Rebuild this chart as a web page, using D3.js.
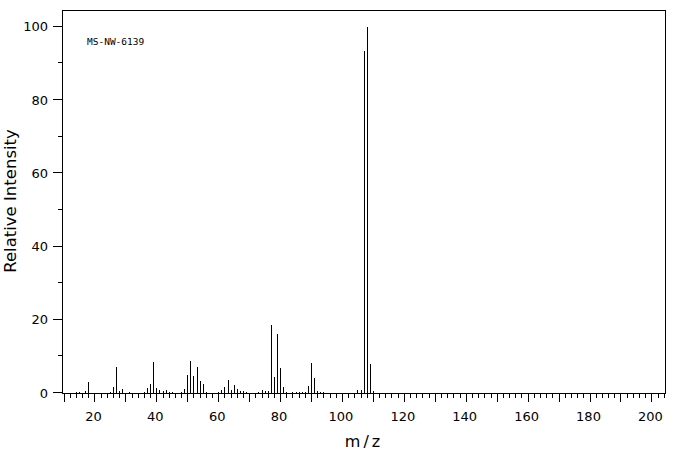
<!DOCTYPE html>
<html>
<head>
<meta charset="utf-8">
<script src="https://cdn.jsdelivr.net/npm/d3@7"></script>
<style>
  html, body { margin: 0; padding: 0; background: #fff; }
  svg { display: block; }
  text { fill: #000; }
</style>
</head>
<body>
<svg id="chart" width="676" height="455"></svg>
<script>
// m/z values and relative intensities
const mzValues = [14,15,17,18,25,26,27,28,29,31,36,37,38,39,40,41,42,43,44,45,48,49,50,51,52,53,54,55,56,60,61,62,63,64,65,66,67,68,69,73,74,75,76,77,78,79,80,81,82,84,85,86,87,88,89,90,91,92,93,94,105,106,107,108,109,110];
const intensities = [0.3,0.3,0.5,3.0,0.3,1.6,7.2,0.6,1.1,0.3,0.3,1.4,2.5,8.5,1.4,0.7,0.5,0.7,0.4,0.4,0.3,1.1,5.0,8.7,4.6,7.2,3.3,2.5,0.3,0.3,0.8,1.6,3.5,0.8,2.3,1.2,0.5,0.5,0.3,0.3,0.8,0.5,0.5,18.6,4.4,16.1,6.8,1.6,0.3,0.3,0.3,0.3,0.3,0.3,1.9,8.2,4.1,0.5,0.3,0.3,0.8,0.8,93.4,100,7.9,0.5];
const xTickLabels = [20,40,60,80,100,120,140,160,180,200];
const yTickLabels = [0,20,40,60,80,100];
const xDomain = [9.5, 204.4];
const yDomain = [0, 104.6];
const sampleLabel = "MS-NW-6139";
const xTitle = "m/z";
const yTitle = "Relative Intensity";

(function () {
const svg = d3.select("#chart");
const pLeft = 62, pRight = 665, pTop = 10, pBottom = 393;

const x = d3.scaleLinear().domain(xDomain).range([pLeft, pRight]);
const y = d3.scaleLinear().domain(yDomain).range([pBottom, pTop]);
const px = v => Math.round(v) + 0.5;

const data = mzValues.map((m, i) => ({ mz: m, v: intensities[i] }));

// bars
svg.append("g").selectAll("line").data(data).join("line")
  .attr("x1", d => px(x(d.mz))).attr("x2", d => px(x(d.mz)))
  .attr("y1", pBottom).attr("y2", d => Math.round(y(d.v)))
  .attr("stroke", "#000").attr("stroke-width", 1)
  .attr("shape-rendering", "crispEdges");

// frame
svg.append("rect")
  .attr("x", pLeft + 0.5).attr("y", pTop + 0.5)
  .attr("width", pRight - pLeft).attr("height", pBottom - pTop)
  .attr("fill", "none").attr("stroke", "#000").attr("stroke-width", 1)
  .attr("shape-rendering", "crispEdges");

// x axis ticks (every 2, long every 10)
const xTicks = d3.range(10, 205, 2);
const xAxis = d3.axisBottom(x).tickValues(xTicks).tickSize(0).tickFormat("");
const gx = svg.append("g").attr("transform", `translate(0,${pBottom + 0.5})`).call(xAxis);
gx.select(".domain").remove();
gx.selectAll(".tick").each(function (d) {
  const g = d3.select(this);
  g.attr("transform", `translate(${px(x(d))},0)`);
  g.select("line").attr("y2", d % 10 === 0 ? 8 : 4).attr("stroke", "#000")
    .attr("shape-rendering", "crispEdges");
});
svg.append("g").selectAll("text").data(xTickLabels).join("text")
  .attr("x", d => x(d) - 1).attr("y", 421)
  .attr("text-anchor", "middle")
  .attr("font-family", "DejaVu Sans").attr("font-size", 13)
  .text(d => d);

// y axis ticks (every 10, long every 20)
const yTicks = d3.range(0, 101, 10);
const yAxis = d3.axisLeft(y).tickValues(yTicks).tickSize(0).tickFormat("");
const gy = svg.append("g").attr("transform", `translate(${pLeft + 0.5},0)`).call(yAxis);
gy.select(".domain").remove();
gy.selectAll(".tick").each(function (d) {
  const g = d3.select(this);
  g.attr("transform", `translate(0,${px(y(d)) - 1})`);
  g.select("line").attr("x2", d % 20 === 0 ? -10 : -5).attr("stroke", "#000")
    .attr("shape-rendering", "crispEdges");
});
svg.append("g").selectAll("text").data(yTickLabels).join("text")
  .attr("x", 48).attr("y", d => y(d) + 4.5)
  .attr("text-anchor", "end")
  .attr("font-family", "DejaVu Sans").attr("font-size", 13)
  .text(d => d);

// titles
svg.append("text")
  .attr("x", 364).attr("y", 447)
  .attr("text-anchor", "middle")
  .attr("font-family", "DejaVu Sans").attr("font-size", 16)
  .attr("letter-spacing", 3)
  .text(xTitle);
svg.append("text")
  .attr("transform", "translate(16,201) rotate(-90)")
  .attr("text-anchor", "middle")
  .attr("font-family", "DejaVu Sans").attr("font-size", 16.5)
  .text(yTitle);

svg.append("text")
  .attr("x", 87).attr("y", 44.5)
  .attr("font-family", "DejaVu Sans Mono").attr("font-size", 9.5)
  .text(sampleLabel);
})();
</script>
</body>
</html>
